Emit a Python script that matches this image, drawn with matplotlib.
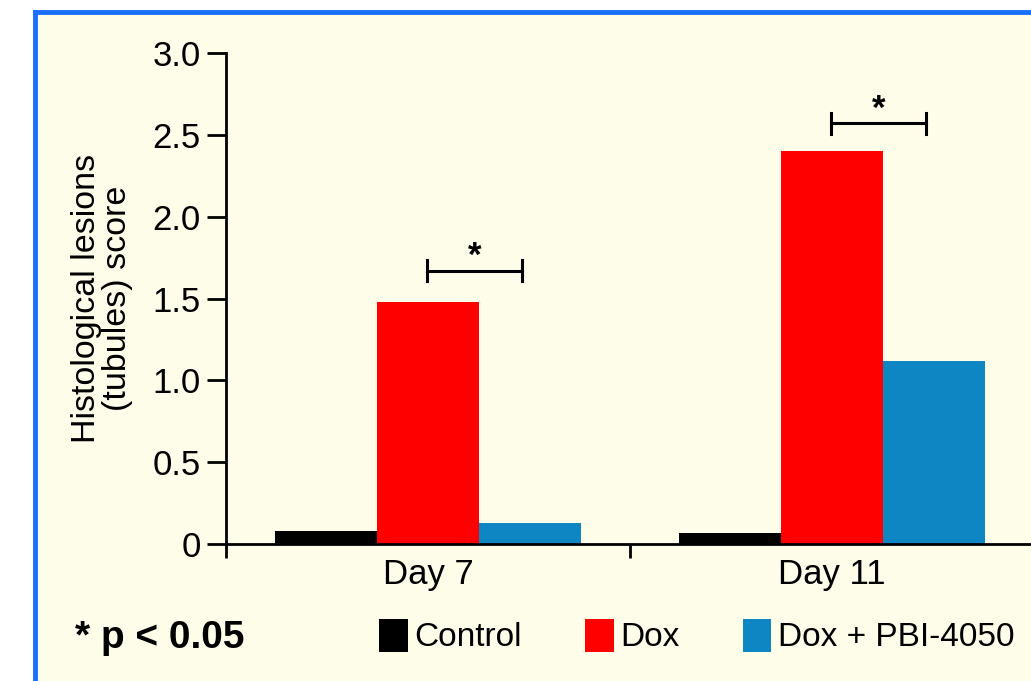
import matplotlib
matplotlib.use("Agg")
import matplotlib.pyplot as plt
from matplotlib.patches import Patch
from matplotlib.lines import Line2D
from matplotlib import font_manager
import numpy as np

days = ["Day 7", "Day 11"]
groups = ["Control", "Dox", "Dox + PBI-4050"]
control = [0.08, 0.07]
dox = [1.48, 2.40]
pbi = [0.13, 1.12]
bracket_y = [1.67, 2.57]
y_ticks = [0, 0.5, 1.0, 1.5, 2.0, 2.5, 3.0]
y_ticklabels = ["0", "0.5", "1.0", "1.5", "2.0", "2.5", "3.0"]

names = {f.name for f in font_manager.fontManager.ttflist}
family = "Liberation Sans Narrow" if "Liberation Sans Narrow" in names else "Liberation Sans"
plt.rcParams["font.family"] = [family, "DejaVu Sans"]

bg = "#fefde9"
colors = ["#000000", "#ff0000", "#0e86c4"]

fig = plt.figure(figsize=(10.31, 6.81), dpi=100)
fig.patch.set_facecolor("white")
# cream panel with blue border on the left and top
fig.patches.append(plt.Rectangle((35 / 1031, 0), 1, 1 - 12 / 681, transform=fig.transFigure,
                                 facecolor=bg, edgecolor="none", zorder=-5))
fig.add_artist(Line2D([35 / 1031, 35 / 1031], [0, 1 - 12 / 681], color="#1a6fff", lw=3.5,
                      solid_capstyle="projecting", zorder=-4))
fig.add_artist(Line2D([35 / 1031, 1.01], [1 - 12 / 681, 1 - 12 / 681], color="#1a6fff", lw=3.5,
                      solid_capstyle="projecting", zorder=-4))

ax = fig.add_axes([226 / 1031, 1 - 544 / 681, 808 / 1031, 491 / 681])
ax.set_facecolor("none")
ax.set_zorder(2)

x = np.array([0.5, 1.5])
w = 0.252
series = [control, dox, pbi]
for i, (vals, c, lab) in enumerate(zip(series, colors, groups)):
    ax.bar(x + (i - 1) * w, vals, width=w, color=c, label=lab, zorder=2)

# significance brackets between Dox and Dox + PBI-4050
for xi, yb in zip(x, bracket_y):
    x0, x1 = xi - 0.002, xi + w - 0.02
    cap = 0.065
    ax.plot([x0, x1], [yb, yb], color="black", lw=2.2, zorder=3)
    ax.plot([x0, x0], [yb - cap, yb + cap], color="black", lw=2.2, zorder=3)
    ax.plot([x1, x1], [yb - cap, yb + cap], color="black", lw=2.2, zorder=3)
    ax.text((x0 + x1) / 2, yb - 0.015, "*", ha="center", va="bottom", fontsize=25,
            fontweight="bold", color="black")

ax.set_xlim(0, 2)
ax.set_ylim(0, 3.0)
ax.set_yticks(y_ticks)
ax.set_yticklabels(y_ticklabels)
ax.set_xticks([0, 1, 2])
ax.set_xticklabels([])
ax.set_xticks(x, minor=True)
ax.set_xticklabels(days, minor=True)
ax.tick_params(axis="x", which="minor", length=0, pad=10, labelsize=25)
ax.tick_params(axis="x", which="major", length=10, width=2)
ax.tick_params(axis="y", length=14, width=2, labelsize=25, pad=4)

for s in ["top", "right"]:
    ax.spines[s].set_visible(False)
ax.spines["left"].set_linewidth(2)
ax.spines["bottom"].set_linewidth(2)
ax.spines["left"].set_bounds(0, 3.0)

ax.set_ylabel("Histological lesions\n(tubules) score", fontsize=24.5, labelpad=14,
              linespacing=1.0)

handles = [Patch(facecolor=c, edgecolor="none") for c in colors]
fig.legend(handles, groups, loc="center left", bbox_to_anchor=(366 / 1031, 1 - 636 / 681),
           ncol=3, frameon=False, fontsize=24, handlelength=0.85, handleheight=1.15,
           handletextpad=0.2, columnspacing=1.9, borderaxespad=0)

fig.text(75 / 1031, 1 - 638 / 681, "* p < 0.05", fontsize=28, fontweight="bold",
         ha="left", va="center")

fig.savefig("out.png", dpi=100, facecolor=fig.get_facecolor())
